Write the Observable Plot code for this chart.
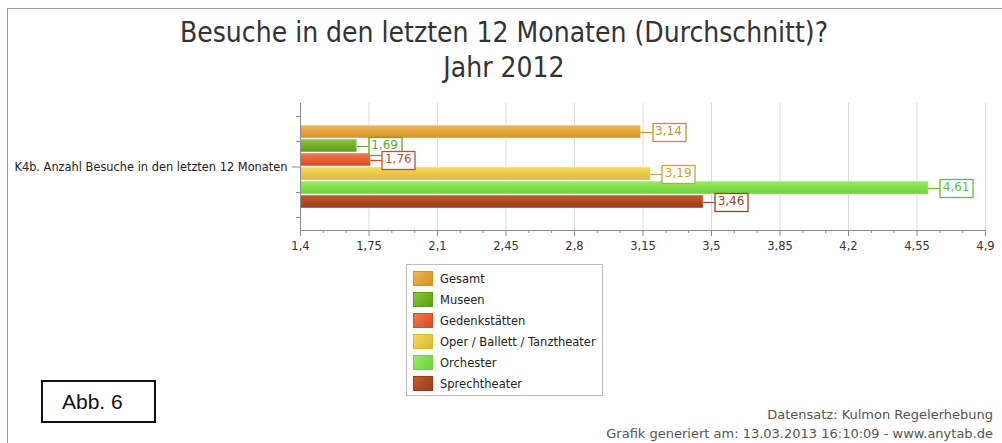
<!DOCTYPE html>
<html>
<head>
<meta charset="utf-8">
<script src="https://cdn.jsdelivr.net/npm/d3@7"></script>
<script src="https://cdn.jsdelivr.net/npm/@observablehq/plot@0.6"></script>
<style>
  body { margin: 0; background: #fff; }
  #wrap { position: relative; width: 1002px; height: 443px; overflow: hidden; background: #fff;
          font-family: "DejaVu Sans", sans-serif; color: #333; }
  #frame { position: absolute; left: 7px; top: 8px; width: 1100px; height: 600px;
           border-top: 1px solid #9a9a9a; border-left: 1px solid #9a9a9a; }
  #title { position: absolute; left: 0; width: 1008px; top: 15px; text-align: center;
           font-family: "DejaVu Sans Condensed", "DejaVu Sans", sans-serif; font-stretch: condensed;
           font-size: 28px; line-height: 35px; color: #333; }
  #chart { position: absolute; left: 0; top: 95px; }
  #legend { position: absolute; left: 406px; top: 264px; width: 197px; height: 132px;
            border: 1px solid #bdbdbd; background: #fff; box-sizing: border-box; padding-top: 3px; }
  .li { height: 21px; display: flex; align-items: center; font-size: 11.5px; color: #222; }
  .sw { width: 20px; height: 15px; margin-left: 6px; margin-right: 7px; box-sizing: border-box; }
  #abb { position: absolute; left: 41px; top: 380px; width: 115px; height: 43px; box-sizing: border-box;
         border: 2px solid #111; font-family: "Liberation Sans", Arial, sans-serif; font-size: 21px;
         color: #111; line-height: 39px; padding-left: 19px; }
  #foot { position: absolute; right: 9px; top: 405px; text-align: right; font-size: 13px;
          line-height: 19px; color: #555; }
</style>
</head>
<body>
<div id="wrap">
  <div id="frame"></div>
  <div id="title"></div>
  <div id="chart"></div>
  <div id="legend"></div>
  <div id="abb"></div>
  <div id="foot"></div>
</div>
<script>
// ---- data ----
const titleLines = ["Besuche in den letzten 12 Monaten (Durchschnitt)?", "Jahr 2012"];
const category = "K4b. Anzahl Besuche in den letzten 12 Monaten";
const series = ["Gesamt", "Museen", "Gedenkstätten", "Oper / Ballett / Tanztheater", "Orchester", "Sprechtheater"];
const values = [3.14, 1.69, 1.76, 3.19, 4.61, 3.46];
const xTicks = [1.4, 1.75, 2.1, 2.45, 2.8, 3.15, 3.5, 3.85, 4.2, 4.55, 4.9];
const colorLight = ["#EDBA5C", "#8CC63E", "#F07C4C", "#F2DA60", "#9CEB6A", "#BE6036"];
const colorBase  = ["#E2A63E", "#75B42C", "#E4643A", "#EACB48", "#86E04E", "#AE4C26"];
const colorDark  = ["#D2922A", "#5E9C1A", "#D04E28", "#DDB836", "#70D03E", "#9A3C1C"];
const labelColors = ["#C4922C", "#62A826", "#C64E2C", "#C6A436", "#66BA3A", "#A0401E"];
const figureLabel = "Abb. 6";
const footerLines = ["Datensatz: Kulmon Regelerhebung", "Grafik generiert am: 13.03.2013 16:10:09 - www.anytab.de"];

// ---- page text ----
document.getElementById("title").innerHTML = titleLines.map(t => `<div>${t}</div>`).join("");
document.getElementById("abb").textContent = figureLabel;
document.getElementById("foot").innerHTML = footerLines.map(t => `<div>${t}</div>`).join("");
document.getElementById("legend").innerHTML = series.map((s, i) =>
  `<div class="li"><div class="sw" style="background:linear-gradient(135deg, ${colorLight[i]}, ${colorBase[i]} 45%, ${colorDark[i]});border:1px solid ${colorDark[i]}"></div>${s}</div>`
).join("");

// ---- chart ----
const data = series.map((s, i) => ({category, series: s, value: values[i]}));
const fmt = d => String(d).replace(".", ",");
const minorTicks = xTicks.slice(0, -1).flatMap((t, i) => {
  const step = xTicks[i + 1] - t;
  return [t + step / 3, t + 2 * step / 3];
});

const W = 1002, H = 165, mT = 8, mB = 30, mL = 300, mR = 17;
const axisGray = "#8c8c8c";

const chart = Plot.plot({
  width: W, height: H,
  marginTop: mT, marginBottom: mB, marginLeft: mL, marginRight: mR,
  style: {fontFamily: "'DejaVu Sans', sans-serif", fontSize: "11px", color: "#333", background: "transparent", overflow: "visible"},
  x: {domain: [xTicks[0], xTicks[xTicks.length - 1]], label: null},
  fy: {domain: [category], padding: 0, label: null},
  y: {domain: series, paddingInner: 0.08, paddingOuter: 1.3, axis: null},
  color: {domain: series, range: series.map((s, i) => `url(#bar-grad-${i})`)},
  marks: [
    Plot.gridX(xTicks, {stroke: "#dadada", strokeOpacity: 1}),
    Plot.barX(data, {fy: "category", y: "series", x1: xTicks[0], x2: "value", fill: "series",
                     stroke: "rgba(255,255,255,0.45)", strokeWidth: 1, ariaDescription: "bars"}),
    Plot.text(data, {fy: "category", y: "series", x: "value", text: d => fmt(d.value), dx: 14, dy: -1,
                     textAnchor: "start", fontSize: 12, fill: "#333", ariaDescription: "value-label"}),
    Plot.frame({anchor: "left", stroke: axisGray}),
    Plot.frame({anchor: "bottom", stroke: axisGray}),
    Plot.axisX(minorTicks, {tickSize: 3, tickFormat: () => "", stroke: axisGray, label: null}),
    Plot.axisX(xTicks, {tickSize: 6, tickPadding: 5, tickFormat: fmt, stroke: axisGray, fill: "#333", fontSize: 11.5, label: null}),
    Plot.axisFy({anchor: "left", tickSize: 8, tickPadding: 5, stroke: axisGray, fill: "#222", fontSize: 11.4, label: null})
  ]
});
document.getElementById("chart").appendChild(chart);

// gradients for the bars
const svg = d3.select(chart);
const defs = svg.insert("defs", ":first-child");
series.forEach((s, i) => {
  const g = defs.append("linearGradient").attr("id", `bar-grad-${i}`)
    .attr("x1", 0).attr("y1", 0).attr("x2", 0).attr("y2", 1);
  g.append("stop").attr("offset", "0%").attr("stop-color", colorLight[i]);
  g.append("stop").attr("offset", "45%").attr("stop-color", colorBase[i]);
  g.append("stop").attr("offset", "100%").attr("stop-color", colorDark[i]);
});

// minor ticks on the y axis (5 equal divisions, centre one is the category tick)
const yTop = mT, yBot = H - mB;
for (let k = 0; k < 5; k++) {
  if (k === 2) continue;
  const y = Math.round(yTop + (k + 0.5) * (yBot - yTop) / 5) + 0.5;
  svg.append("line").attr("x1", mL - 4).attr("x2", mL).attr("y1", y).attr("y2", y).attr("stroke", axisGray);
}

// boxed value labels with connector line
const barGroup = chart.querySelector('g[aria-description="bars"]') || chart.querySelector('g[aria-label="bar"]');
const textGroup = chart.querySelector('g[aria-description="value-label"]') || chart.querySelector('g[aria-label="text"]');
const bars = barGroup.querySelectorAll("rect");
const texts = textGroup.querySelectorAll("text");
const ns = "http://www.w3.org/2000/svg";
texts.forEach((t, i) => {
  const tb = t.getBoundingClientRect();
  const bb = bars[i].getBoundingClientRect();
  const parent = t.parentNode;
  const inv = parent.getScreenCTM().inverse();
  const P = (x, y) => new DOMPoint(x, y).matrixTransform(inv);
  const cy = (bb.top + bb.bottom) / 2;
  const a = P(tb.left - 3, cy - 9), b = P(tb.right + 3, cy + 8.5);
  const l1 = P(bb.right, cy), l2 = P(tb.left - 3, cy);
  const line = document.createElementNS(ns, "line");
  line.setAttribute("x1", l1.x); line.setAttribute("x2", l2.x);
  line.setAttribute("y1", Math.round(l1.y) + 0.5); line.setAttribute("y2", Math.round(l1.y) + 0.5);
  line.setAttribute("stroke", labelColors[i]); line.setAttribute("stroke-width", 1.2);
  const rect = document.createElementNS(ns, "rect");
  rect.setAttribute("x", Math.round(a.x) + 0.5); rect.setAttribute("y", Math.round(a.y) + 0.5);
  rect.setAttribute("width", Math.round(b.x - a.x)); rect.setAttribute("height", Math.round(b.y - a.y));
  rect.setAttribute("fill", "#fff"); rect.setAttribute("stroke", labelColors[i]); rect.setAttribute("stroke-width", 1.3);
  parent.insertBefore(line, t);
  parent.insertBefore(rect, t);
  t.setAttribute("fill", labelColors[i]);
});
</script>
</body>
</html>
